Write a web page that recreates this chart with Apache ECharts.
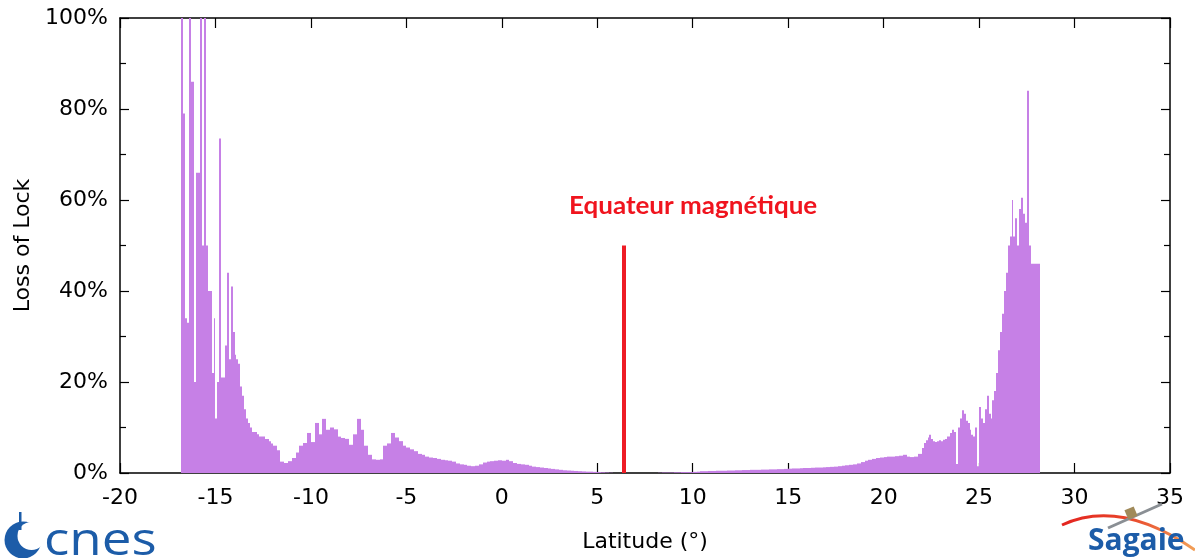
<!DOCTYPE html>
<html>
<head>
<meta charset="utf-8">
<script src="https://cdn.jsdelivr.net/npm/echarts@6/dist/echarts.min.js"></script>
<style>
html,body{margin:0;padding:0;background:#fff;}
#chart{width:1195px;height:558px;}
</style>
</head>
<body>
<div id="chart"></div>
<script>
// Latitude bin starts (degrees) and loss-of-lock rate (%)
const southBins = [
  [-16.8,100],[-16.7,79],[-16.6,34],[-16.5,33],[-16.4,100],[-16.3,86],[-16.2,86],[-16.1,20],
  [-16.0,66],[-15.9,66],[-15.8,100],[-15.7,50],[-15.6,100],[-15.5,50],[-15.4,40],[-15.3,40],
  [-15.2,22],[-15.1,34],[-15.0,12],[-14.9,20],[-14.8,73.5],[-14.7,21],[-14.6,21],[-14.5,28],
  [-14.4,44],[-14.3,25],[-14.2,41],[-14.1,31],[-14.0,26],[-13.9,25],[-13.8,24],[-13.7,19],
  [-13.6,17],[-13.5,14],[-13.4,12],[-13.3,11],[-13.2,10],[-13.1,9],[-13.0,9],[-12.9,9],
  [-12.8,8.5],[-12.7,8],[-12.6,8],[-12.5,8],[-12.4,7.5],[-12.3,7.5],[-12.2,7],[-12.1,6.5]
];
const middleBins = [
  [-12.0,6.0],[-11.8,5.0],[-11.6,2.5],[-11.4,2.2],[-11.2,2.6],[-11.0,3.3],[-10.8,4.5],[-10.6,6.0],
  [-10.4,6.6],[-10.2,8.8],[-10.0,6.8],[-9.8,11.0],[-9.6,8.5],[-9.4,11.9],[-9.2,9.5],[-9.0,10.0],
  [-8.8,9.6],[-8.6,8.0],[-8.4,7.7],[-8.2,7.5],[-8.0,6.2],[-7.8,8.5],[-7.6,11.9],[-7.4,9.5],
  [-7.2,6.0],[-7.0,4.0],[-6.8,3.0],[-6.6,2.9],[-6.4,3.0],[-6.2,6.0],[-6.0,6.5],[-5.8,8.8],
  [-5.6,7.8],[-5.4,7.0],[-5.2,6.0],[-5.0,5.6],[-4.8,5.2],[-4.6,4.8],[-4.4,4.2],[-4.2,4.0],
  [-4.0,3.6],[-3.8,3.4],[-3.6,3.3],[-3.4,3.1],[-3.2,2.9],[-3.0,2.8],[-2.8,2.7],[-2.6,2.5],
  [-2.4,2.1],[-2.2,1.9],[-2.0,1.8],[-1.8,1.6],[-1.6,1.5],[-1.4,1.6],[-1.2,1.9],[-1.0,2.3],
  [-0.8,2.5],[-0.6,2.6],[-0.4,2.7],[-0.2,2.8],[0.0,2.7],[0.2,2.9],[0.4,2.6],[0.6,2.2],
  [0.8,2.0],[1.0,1.9],[1.2,1.8],[1.4,1.6],[1.6,1.4],[1.8,1.3],[2.0,1.2],[2.2,1.1],
  [2.4,1.0],[2.6,0.9],[2.8,0.8],[3.0,0.7],[3.2,0.6],[3.4,0.55],[3.6,0.5],[3.8,0.45],
  [4.0,0.4],[4.2,0.35],[4.4,0.3],[4.6,0.3],[4.8,0.25],[5.0,0.2],[5.2,0.15],[5.4,0.1],
  [5.6,0.05],[5.8,0],[8.2,0.05],[8.4,0.1],[8.6,0.1],[8.8,0.1],[9.0,0.15],[9.2,0.15],
  [9.4,0.2],[9.6,0.2],[9.8,0.2],[10.0,0.25],[10.2,0.3],[10.4,0.4],[10.6,0.4],[10.8,0.45],
  [11.0,0.45],[11.2,0.5],[11.4,0.5],[11.6,0.5],[11.8,0.55],[12.0,0.55],[12.2,0.6],[12.4,0.6],
  [12.6,0.65],[12.8,0.65],[13.0,0.7],[13.2,0.7],[13.4,0.7],[13.6,0.75],[13.8,0.75],[14.0,0.8],
  [14.2,0.8],[14.4,0.85],[14.6,0.85],[14.8,0.9],[15.0,0.95],[15.2,1.0],[15.4,1.0],[15.6,1.05],
  [15.8,1.1],[16.0,1.1],[16.2,1.15],[16.4,1.2],[16.6,1.2],[16.8,1.25],[17.0,1.3],[17.2,1.35],
  [17.4,1.4],[17.6,1.5],[17.8,1.6],[18.0,1.7],[18.2,1.8],[18.4,1.9],[18.6,2.1],[18.8,2.4],
  [19.0,2.7],[19.2,2.9],[19.4,3.1],[19.6,3.3],[19.8,3.4],[20.0,3.5],[20.2,3.6],[20.4,3.6],
  [20.6,3.7],[20.8,3.8],[21.0,4.0],[21.2,3.6],[21.4,3.5],[21.6,3.6],[21.8,4.2]
];
const northBins = [
  [22.0,5.5],[22.1,6.6],[22.2,7.2],[22.3,7.8],[22.4,8.4],[22.5,7.5],[22.6,7.0],[22.7,6.8],
  [22.8,7.0],[22.9,7.2],[23.0,7.0],[23.1,7.3],[23.2,7.5],[23.3,8.0],[23.4,8.0],[23.5,8.8],
  [23.6,9.5],[23.7,9.0],[23.8,2.0],[23.9,10.0],[24.0,12.0],[24.1,13.8],[24.2,13.0],[24.3,11.5],
  [24.4,11.0],[24.5,9.5],[24.6,8.4],[24.7,8.0],[24.8,10.0],[24.9,1.5],[25.0,14.5],[25.1,12.0],
  [25.2,11.0],[25.3,14.0],[25.4,17.0],[25.5,13.0],[25.6,12.0],[25.7,16.0],[25.8,18.0],[25.9,22.0],
  [26.0,27.0],[26.1,31.0],[26.2,35.0],[26.3,40.0],[26.4,44.0],[26.5,50.0],[26.6,52.0],[26.7,60.0],
  [26.8,52.0],[26.9,56.0],[27.0,50.0],[27.1,58.0],[27.2,60.5],[27.3,57.0],[27.4,55.0],[27.5,84.0],
  [27.6,50.0],[27.7,46.0],[27.8,46.0],[27.9,46.0],[28.0,46.0],[28.1,46.0]
];
const lastBinEnd = 28.2;
const equatorLine = [[6.4, 0], [6.4, 50]];
const equatorLabel = 'Equateur magnétique';
const xTicks = {min: -20, max: 35, interval: 5};
const yTicks = {min: 0, max: 100, interval: 20};

// Build [binStart, binEnd, value] rows from the bin lists
const allBins = southBins.concat(middleBins, northBins);
const histData = allBins.map((b, i) => [b[0], i + 1 < allBins.length ? allBins[i + 1][0] : lastBinEnd, b[1]]);

const chart = echarts.init(document.getElementById('chart'), null, {renderer: 'canvas'});
const txt = {fontFamily: 'DejaVu Sans', fontSize: 22, color: '#000'};
const frameLine = {show: true, onZero: false, lineStyle: {color: '#000', width: 1.5}};
const fillColor = '#c680e6';

const option = {
  backgroundColor: '#fff',
  animation: false,
  grid: {left: 120, right: 25, top: 18, bottom: 85, containLabel: false},
  xAxis: [{
    type: 'value', min: xTicks.min, max: xTicks.max, interval: xTicks.interval,
    position: 'bottom',
    axisLine: frameLine,
    axisTick: {show: true, inside: true, length: 10, lineStyle: {color: '#000', width: 1.2}},
    axisLabel: Object.assign({margin: 14}, txt),
    splitLine: {show: false},
    name: 'Latitude (°)', nameLocation: 'middle', nameGap: 58,
    nameTextStyle: txt
  }, {
    type: 'value', min: xTicks.min, max: xTicks.max, interval: xTicks.interval,
    position: 'top',
    axisLine: frameLine,
    axisTick: {show: true, inside: true, length: 10, lineStyle: {color: '#000', width: 1.2}},
    axisLabel: {show: false},
    splitLine: {show: false}
  }],
  yAxis: [{
    type: 'value', min: yTicks.min, max: yTicks.max, interval: yTicks.interval,
    position: 'left',
    axisLine: frameLine,
    axisTick: {show: true, inside: true, length: 9, lineStyle: {color: '#000', width: 1.2}},
    minorTick: {show: true, splitNumber: 2, length: 6, lineStyle: {color: '#000', width: 1.2}},
    axisLabel: Object.assign({margin: 12, formatter: '{value}%'}, txt),
    splitLine: {show: false},
    name: 'Loss of Lock', nameLocation: 'middle', nameGap: 80,
    nameTextStyle: txt
  }, {
    type: 'value', min: yTicks.min, max: yTicks.max, interval: yTicks.interval,
    position: 'right',
    axisLine: frameLine,
    axisTick: {show: true, inside: true, length: 9, lineStyle: {color: '#000', width: 1.2}},
    minorTick: {show: true, splitNumber: 2, length: 6, lineStyle: {color: '#000', width: 1.2}},
    axisLabel: {show: false},
    splitLine: {show: false}
  }],
  series: [{
    type: 'custom',
    data: histData,
    encode: {x: [0, 1], y: 2},
    clip: true,
    z: 2,
    renderItem: function (params, api) {
      const top = api.coord([api.value(0), api.value(2)]);
      const bottom = api.coord([api.value(1), 0]);
      const x0 = Math.round(top[0]);
      const x1 = Math.max(Math.round(bottom[0]), x0 + 1);
      return {
        type: 'rect',
        shape: {x: x0, y: top[1], width: x1 - x0, height: bottom[1] - top[1]},
        style: {fill: fillColor}
      };
    }
  }, {
    type: 'line',
    symbol: 'none',
    data: equatorLine,
    lineStyle: {color: '#ee1c25', width: 4},
    z: 3
  }],
  graphic: [
    {type: 'text', x: 569, y: 193, scaleX: 1.04, z: 10,
     style: {text: equatorLabel, fill: '#f0141e', font: 'bold 25px Lato'}},
    // cnes logo
    {type: 'circle', shape: {cx: 23, cy: 540, r: 18.5}, style: {fill: '#1c5ca8'}, z: 10},
    {type: 'circle', shape: {cx: 31.5, cy: 536, r: 14}, style: {fill: '#fff'}, z: 11},
    {type: 'rect', shape: {x: 19, y: 512, width: 2.5, height: 18}, style: {fill: '#1c5ca8'}, z: 12},
    {type: 'text', x: 44, y: 519, scaleX: 1.15, z: 12,
     style: {text: 'cnes', fill: '#1c5ca8', font: '500 46px "Open Sans"'}},
    // Sagaie logo
    {type: 'bezierCurve', z: 10,
     shape: {x1: 1062, y1: 525, cpx1: 1120, cpy1: 498, x2: 1195, y2: 550},
     style: {stroke: new echarts.graphic.LinearGradient(0, 0, 1, 0, [
       {offset: 0, color: '#e3231f'}, {offset: 0.5, color: '#e8452a'}, {offset: 1, color: '#f2a35a'}]),
       lineWidth: 3, fill: null}},
    {type: 'line', z: 11, shape: {x1: 1108, y1: 528, x2: 1162, y2: 504},
     style: {stroke: '#8a8f94', lineWidth: 3}},
    {type: 'rect', z: 12, shape: {x: 1126, y: 508, width: 10, height: 10}, rotation: 0.4,
     originX: 1131, originY: 513, style: {fill: '#a08a5a'}},
    {type: 'text', x: 1088, y: 526, z: 12,
     style: {text: 'Sagaie', fill: '#1c5ca8', font: 'bold 30px "Open Sans"'}}
  ]
};
chart.setOption(option);
</script>
</body>
</html>
